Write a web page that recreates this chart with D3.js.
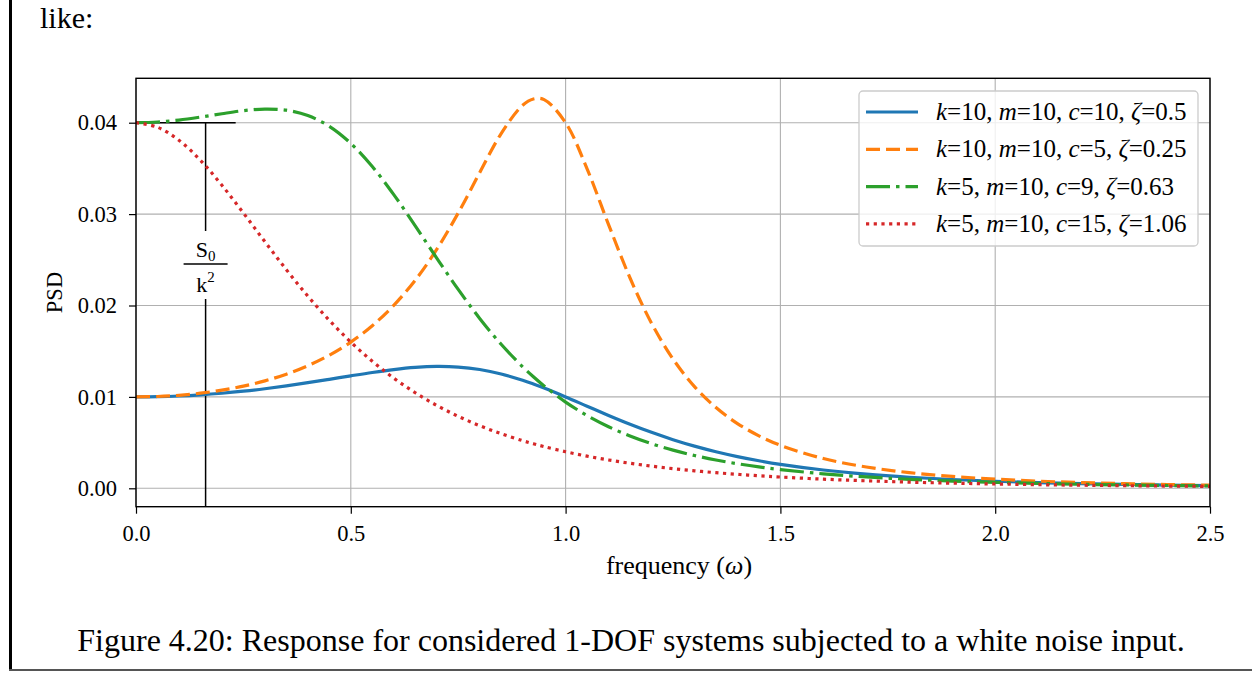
<!DOCTYPE html>
<html lang="en">
<head>
<meta charset="utf-8">
<title>PSD response 1-DOF</title>
<style>
  body { margin: 0; background: #fff; }
  svg text { font-family: "Liberation Serif", "DejaVu Serif", serif; fill: #000; }
</style>
</head>
<body>
<script src="https://d3js.org/d3.v7.min.js"></script>
<div id="chart"></div>
<script>
// frequencies (omega) where the curves were read
var freq = [0, 0.05, 0.1, 0.15, 0.2, 0.25, 0.3, 0.35, 0.4, 0.45, 0.5, 0.55, 0.6, 0.65, 0.7, 0.75, 0.8, 0.85, 0.9, 0.925,
  0.95, 1.0, 1.05, 1.1, 1.15, 1.2, 1.25, 1.3, 1.35, 1.4, 1.45, 1.5, 1.6, 1.7, 1.8, 1.9, 2.0, 2.1, 2.2, 2.3, 2.4, 2.5];

var psdA = [0.01, 0.010025, 0.0101, 0.010225, 0.010399, 0.010622, 0.010892, 0.011204, 0.011553, 0.011926, 0.012308,
  0.012674, 0.012994, 0.013227, 0.013332, 0.013264, 0.012994, 0.012508, 0.011819, 0.011409, 0.010965, 0.01, 0.008985,
  0.007974, 0.00701, 0.006121, 0.005322, 0.004617, 0.004002, 0.00347, 0.003014, 0.002623, 0.002003, 0.001547, 0.001211,
  0.00096, 0.000769, 0.000624, 0.000511, 0.000422, 0.000352, 0.000296];
var psdB = [0.01, 0.010044, 0.010177, 0.010404, 0.010734, 0.011179, 0.011756, 0.01249, 0.013412, 0.014564, 0.016,
  0.01779, 0.020016, 0.022772, 0.026137, 0.030118, 0.03453, 0.038815, 0.041911, 0.042599, 0.04253, 0.04, 0.034949,
  0.028852, 0.023008, 0.018064, 0.014144, 0.011128, 0.008833, 0.007084, 0.005743, 0.004706, 0.003254, 0.002329, 0.001716,
  0.001296, 0.001, 0.000786, 0.000627, 0.000507, 0.000415, 0.000343];
var psdC = [0.04, 0.040075, 0.04029, 0.040612, 0.040984, 0.041317, 0.041494, 0.041369, 0.040783, 0.039599, 0.037736,
  0.035208, 0.032134, 0.028717, 0.025189, 0.021761, 0.018587, 0.015755, 0.013294, 0.012202, 0.011198, 0.009434, 0.007962,
  0.006738, 0.005722, 0.004878, 0.004176, 0.003591, 0.003101, 0.002689, 0.002341, 0.002047, 0.001583, 0.001242, 0.000987,
  0.000794, 0.000646, 0.00053, 0.000439, 0.000367, 0.000309, 0.000262];
var psdD = [0.04, 0.039505, 0.038081, 0.03589, 0.033156, 0.030118, 0.026983, 0.023916, 0.021026, 0.018378, 0.016,
  0.013896, 0.012054, 0.010453, 0.009069, 0.007877, 0.006851, 0.00597, 0.005212, 0.004874, 0.004561, 0.004, 0.003517,
  0.003099, 0.002738, 0.002425, 0.002153, 0.001916, 0.00171, 0.001529, 0.00137, 0.001231, 0.001, 0.000819, 0.000676,
  0.000562, 0.000471, 0.000397, 0.000336, 0.000287, 0.000246, 0.000212];

// legend pieces: [k, m, c, zeta]
var params = [["10", "10", "10", "0.5"], ["10", "10", "5", "0.25"], ["5", "10", "9", "0.63"], ["5", "10", "15", "1.06"]];
var colors = ["#1f77b4", "#ff7f0e", "#2ca02c", "#d62728"];
var dashes = [null, "14,6", "24,6,3.5,6", "3.2,4.5"];

var xTicks = [0, 0.5, 1.0, 1.5, 2.0, 2.5];
var yTicks = [0, 0.01, 0.02, 0.03, 0.04];

var W = 1252, H = 673;
var svg = d3.select("#chart").append("svg").attr("width", W).attr("height", H);

// page decorations
svg.append("rect").attr("x", 9).attr("y", 0).attr("width", 3).attr("height", 671).attr("fill", "#000");
svg.append("rect").attr("x", 9).attr("y", 669).attr("width", W - 9).attr("height", 2).attr("fill", "#555");
svg.append("text").attr("x", 40).attr("y", 28).attr("font-size", 30).text("like:");
svg.append("text").attr("x", 631).attr("y", 651).attr("text-anchor", "middle").attr("font-size", 32)
  .text("Figure 4.20: Response for considered 1-DOF systems subjected to a white noise input.");

var pL = 136, pR = 1210, pT = 78.3, pB = 506.7;
var x = d3.scaleLinear().domain([0, 2.5]).range([pL, pR]);
var y = d3.scaleLinear().domain([-0.002013, 0.044858]).range([pB, pT]);

// grid
var grid = svg.append("g").attr("stroke", "#b0b0b0").attr("stroke-width", 1.1);
grid.selectAll(".gx").data(xTicks).enter().append("line")
  .attr("x1", function(d) { return x(d); }).attr("x2", function(d) { return x(d); })
  .attr("y1", pT).attr("y2", pB);
grid.selectAll(".gy").data(yTicks).enter().append("line")
  .attr("y1", function(d) { return y(d); }).attr("y2", function(d) { return y(d); })
  .attr("x1", pL).attr("x2", pR);

// axes
var xAxis = svg.append("g").attr("transform", "translate(0," + pB + ")")
  .call(d3.axisBottom(x).tickValues(xTicks).tickFormat(d3.format(".1f")).tickSize(7).tickPadding(11));
var yAxis = svg.append("g").attr("transform", "translate(" + pL + ",0)")
  .call(d3.axisLeft(y).tickValues(yTicks).tickFormat(d3.format(".2f")).tickSize(7).tickPadding(12));
[xAxis, yAxis].forEach(function(a) {
  a.select(".domain").remove();
  a.selectAll("line").attr("stroke", "#000").attr("stroke-width", 1.2);
  a.selectAll("text").attr("font-size", 22.5).attr("font-family", "Liberation Serif").attr("fill", "#000");
});

// clip for curves
svg.append("clipPath").attr("id", "plotclip").append("rect")
  .attr("x", pL).attr("y", pT).attr("width", pR - pL).attr("height", pB - pT);

var series = [psdA, psdB, psdC, psdD];
var line = d3.line()
  .x(function(d, i) { return x(freq[i]); })
  .y(function(d) { return y(d); })
  .curve(d3.curveCatmullRom.alpha(0.5));

// S0/k^2 annotation
var annX = 0.162;
var ann = svg.append("g").attr("stroke", "#000").attr("stroke-width", 1.5);
ann.append("line").attr("x1", x(0)).attr("x2", x(0.232)).attr("y1", y(0.04)).attr("y2", y(0.04));
ann.append("line").attr("x1", x(annX)).attr("x2", x(annX)).attr("y1", y(0.04)).attr("y2", 231);
ann.append("line").attr("x1", x(annX)).attr("x2", x(annX)).attr("y1", 299).attr("y2", pB);
ann.append("line").attr("x1", x(annX) - 22).attr("x2", x(annX) + 22).attr("y1", 264).attr("y2", 264);
var s0 = svg.append("text").attr("x", x(annX)).attr("y", 257).attr("text-anchor", "middle").attr("font-size", 22);
s0.append("tspan").text("S");
s0.append("tspan").attr("font-size", 15).attr("dy", 4).text("0");
var k2 = svg.append("text").attr("x", x(annX)).attr("y", 292).attr("text-anchor", "middle").attr("font-size", 22);
k2.append("tspan").text("k");
k2.append("tspan").attr("font-size", 15).attr("dy", -10).text("2");

var curves = svg.append("g").attr("clip-path", "url(#plotclip)");
series.forEach(function(s, i) {
  curves.append("path").datum(s)
    .attr("d", line)
    .attr("fill", "none")
    .attr("stroke", colors[i])
    .attr("stroke-width", 3.2)
    .attr("stroke-dasharray", dashes[i]);
});

// frame
svg.append("rect").attr("x", pL).attr("y", pT).attr("width", pR - pL).attr("height", pB - pT)
  .attr("fill", "none").attr("stroke", "#000").attr("stroke-width", 1.4);

// axis labels
var xl = svg.append("text").attr("x", 679).attr("y", 574).attr("text-anchor", "middle").attr("font-size", 26);
xl.append("tspan").text("frequency (");
xl.append("tspan").attr("font-style", "italic").text("ω");
xl.append("tspan").text(")");
svg.append("text").attr("transform", "translate(62," + ((pT + pB) / 2) + ") rotate(-90)")
  .attr("text-anchor", "middle").attr("font-size", 22.5).text("PSD");

// legend
var lg = svg.append("g");
lg.append("rect").attr("x", 859).attr("y", 91).attr("width", 339).attr("height", 155).attr("rx", 4)
  .attr("fill", "#fff").attr("fill-opacity", 0.8).attr("stroke", "#ccc").attr("stroke-width", 1.3);
params.forEach(function(p, i) {
  var cy = 112 + i * 37.3;
  lg.append("line").attr("x1", 866).attr("x2", 918).attr("y1", cy).attr("y2", cy)
    .attr("stroke", colors[i]).attr("stroke-width", 3.2).attr("stroke-dasharray", dashes[i]);
  var t = lg.append("text").attr("x", 936).attr("y", cy + 8).attr("font-size", 25);
  t.append("tspan").attr("font-style", "italic").text("k");
  t.append("tspan").text("=" + p[0] + ", ");
  t.append("tspan").attr("font-style", "italic").text("m");
  t.append("tspan").text("=" + p[1] + ", ");
  t.append("tspan").attr("font-style", "italic").text("c");
  t.append("tspan").text("=" + p[2] + ", ");
  t.append("tspan").attr("font-style", "italic").text("ζ");
  t.append("tspan").text("=" + p[3]);
});
</script>
</body>
</html>
